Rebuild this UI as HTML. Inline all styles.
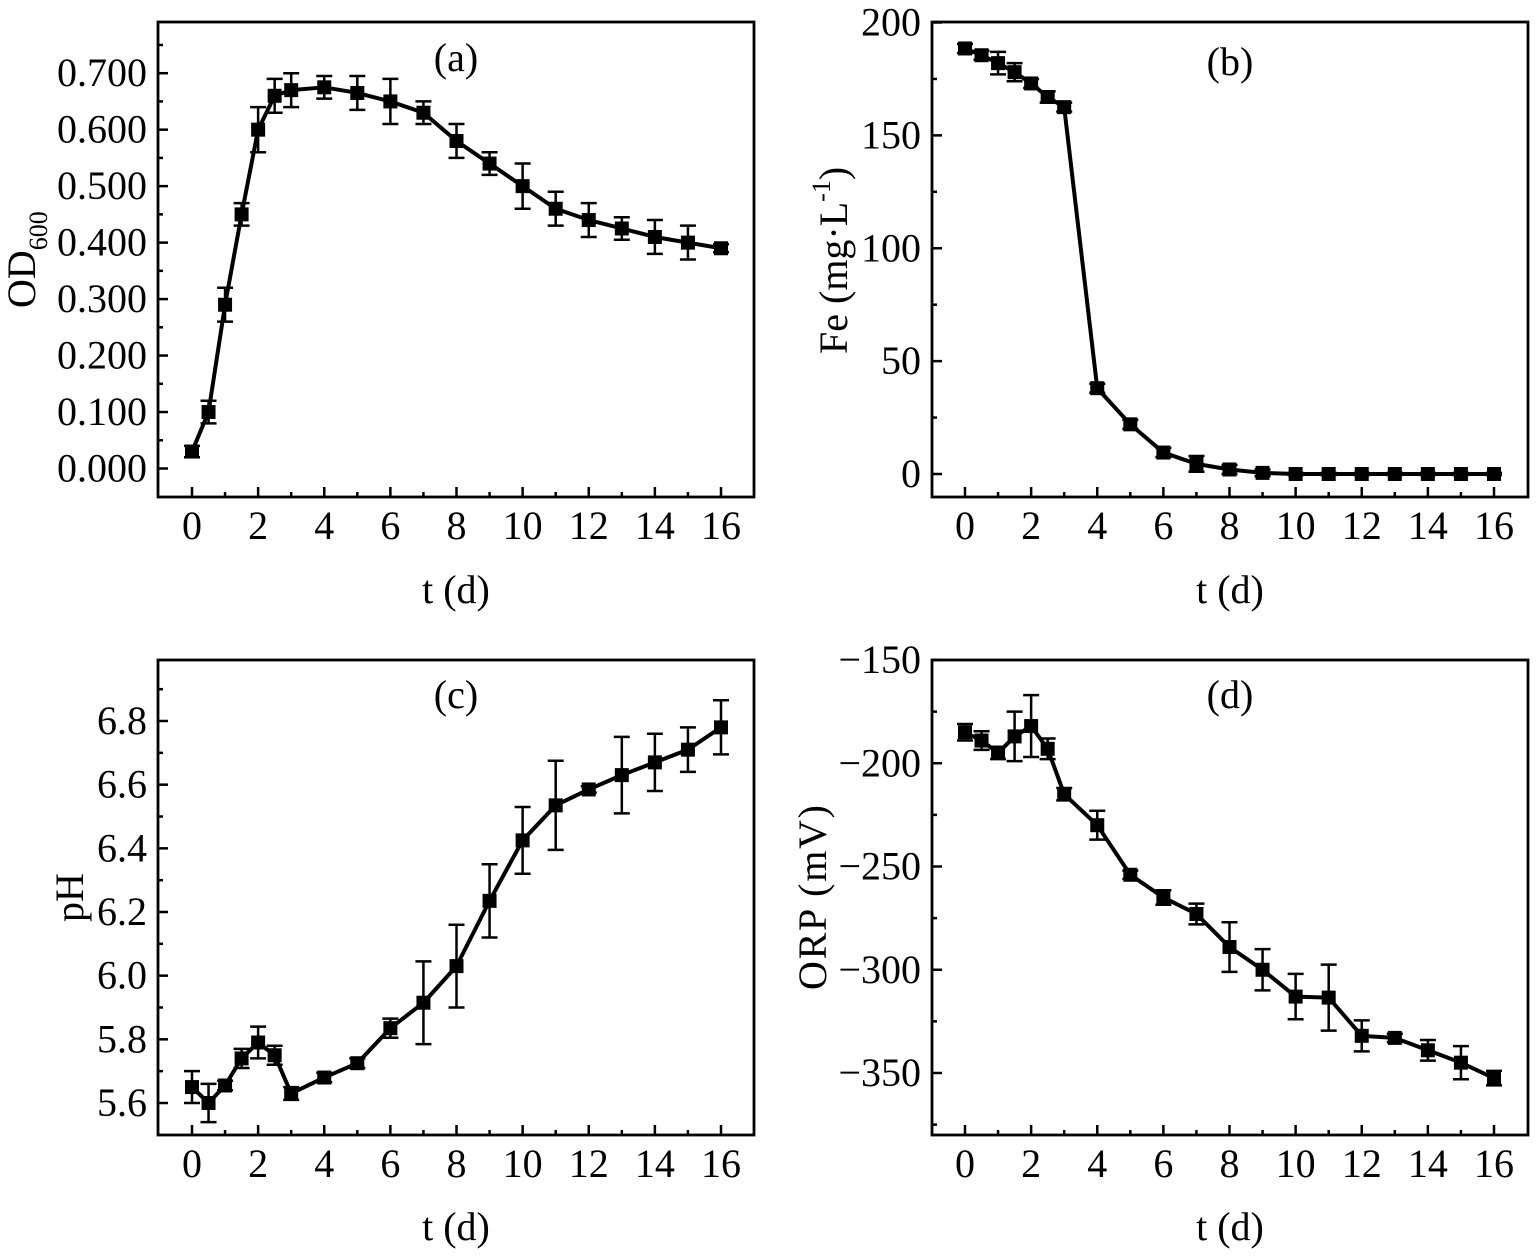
<!DOCTYPE html>
<html>
<head>
<meta charset="utf-8">
<style>
html,body{margin:0;padding:0;background:#fff;}
svg{display:block;}
text{font-family:"Liberation Serif",serif;fill:#000;font-size:40px;}
</style>
</head>
<body>
<svg id="figure" width="1536" height="1256" viewBox="0 0 1536 1256" xmlns="http://www.w3.org/2000/svg">
<rect width="1536" height="1256" fill="#fff"/>
<text x="456" y="71" text-anchor="middle">(a)</text>
<text x="1230" y="75" text-anchor="middle">(b)</text>
<text x="456" y="708" text-anchor="middle">(c)</text>
<text x="1230" y="708" text-anchor="middle">(d)</text>
<text x="456" y="603" text-anchor="middle">t (d)</text>
<text x="1230" y="603" text-anchor="middle">t (d)</text>
<text x="456" y="1240" text-anchor="middle">t (d)</text>
<text x="1230" y="1240" text-anchor="middle">t (d)</text>
<text transform="translate(35,308) rotate(-90)">OD<tspan font-size="26" dy="12">600</tspan></text>
<text transform="translate(847,354) rotate(-90)">Fe (mg·L<tspan font-size="26" dy="-17">-1</tspan><tspan dy="17">)</tspan></text>
<text transform="translate(83,922) rotate(-90)">pH</text>
<text transform="translate(826,990) rotate(-90)" textLength="185">ORP (mV)</text>
</svg>
<script>
const times = [0,0.5,1,1.5,2,2.5,3,4,5,6,7,8,9,10,11,12,13,14,15,16];
const xTicks = [0,2,4,6,8,10,12,14,16];
const xMinorTicks = [1,3,5,7,9,11,13,15];

const odValues = [0.03,0.1,0.29,0.45,0.6,0.66,0.67,0.675,0.665,0.65,0.63,0.58,0.54,0.5,0.46,0.44,0.425,0.41,0.4,0.39];
const odErrors = [0.01,0.02,0.03,0.02,0.04,0.03,0.03,0.02,0.03,0.04,0.02,0.03,0.02,0.04,0.03,0.03,0.02,0.03,0.03,0.007];
const odTicks = [0,0.1,0.2,0.3,0.4,0.5,0.6,0.7];
const odTickLabels = ["0.000","0.100","0.200","0.300","0.400","0.500","0.600","0.700"];
const odMinorTicks = [0.05,0.15,0.25,0.35,0.45,0.55,0.65,0.75];

const feValues = [188.5,185.5,182,178,173,167,162.5,38,22,9.5,4.5,2,0.5,0,0,0,0,0,0,0];
const feErrors = [2,2,5,4,2,2.5,2,2,2,2,3.5,2,1.5,0.5,0.5,0.5,0.5,0.5,0.5,0.5];
const feTicks = [0,50,100,150,200];
const feTickLabels = ["0","50","100","150","200"];
const feMinorTicks = [25,75,125,175];

const phValues = [5.65,5.6,5.655,5.74,5.79,5.75,5.63,5.68,5.725,5.835,5.915,6.03,6.235,6.425,6.535,6.585,6.63,6.67,6.71,6.78];
const phErrors = [0.05,0.06,0.015,0.03,0.05,0.03,0.02,0.015,0.015,0.03,0.13,0.13,0.115,0.105,0.14,0.01,0.12,0.09,0.07,0.085];
const phTicks = [5.6,5.8,6.0,6.2,6.4,6.6,6.8];
const phTickLabels = ["5.6","5.8","6.0","6.2","6.4","6.6","6.8"];
const phMinorTicks = [5.7,5.9,6.1,6.3,6.5,6.7,6.9];

const orpValues = [-185,-189,-195,-187,-182,-193,-215,-230,-254,-265,-273,-289,-300,-313,-313.5,-332,-333,-339,-345,-352.5];
const orpErrors = [4,4.5,3,12,15,5,3,7,2,3.5,5,12,10,11,16,7.5,2,5,8,3.5];
const orpTicks = [-150,-200,-250,-300,-350];
const orpTickLabels = ["\u2212150","\u2212200","\u2212250","\u2212300","\u2212350"];
const orpMinorTicks = [-175,-225,-275,-325,-375];

const svg = document.getElementById('figure');
const NS = 'http://www.w3.org/2000/svg';

function make(tag, attrs) {
  const el = document.createElementNS(NS, tag);
  for (const k in attrs) el.setAttribute(k, attrs[k]);
  svg.appendChild(el);
  return el;
}

function drawPanel(id, box, xScale, yScale, values, errors, yTicks, yLabels, yMinor) {
  const frame = make('rect', {x: box.l, y: box.t, width: box.r - box.l, height: box.b - box.t, fill: 'none', stroke: '#000', 'stroke-width': 2.8});
  
  

  xTicks.forEach(function (v) {
    const x = xScale(v);
    const tick = make('line', {x1: x, x2: x, y1: box.b, y2: box.b - 10, stroke: '#000', 'stroke-width': 2.5});
    
    
    const label = make('text', {x: x, y: box.b + 42, 'text-anchor': 'middle'});
    label.textContent = String(v);
    
    
  });
  xMinorTicks.forEach(function (v) {
    const x = xScale(v);
    const tick = make('line', {x1: x, x2: x, y1: box.b, y2: box.b - 5, stroke: '#000', 'stroke-width': 2.5});
    
    
  });
  yTicks.forEach(function (v, i) {
    const y = yScale(v);
    const tick = make('line', {x1: box.l, x2: box.l + 10, y1: y, y2: y, stroke: '#000', 'stroke-width': 2.5});
    
    
    const label = make('text', {x: box.l - 11, y: y + 13, 'text-anchor': 'end'});
    label.textContent = yLabels[i];
    
    
  });
  yMinor.forEach(function (v) {
    const y = yScale(v);
    const tick = make('line', {x1: box.l, x2: box.l + 5, y1: y, y2: y, stroke: '#000', 'stroke-width': 2.5});
    
    
  });

  times.forEach(function (t, i) {
    const x = xScale(t);
    const yHi = yScale(values[i] + errors[i]);
    const yLo = yScale(values[i] - errors[i]);
    const err = make('path', {
      d: 'M' + (x - 8) + ' ' + yHi + 'H' + (x + 8) + 'M' + (x - 8) + ' ' + yLo + 'H' + (x + 8) + 'M' + x + ' ' + yHi + 'V' + yLo,
      fill: 'none', stroke: '#000', 'stroke-width': 2.5
    });
    
    
  });

  const pts = times.map(function (t, i) { return xScale(t) + ',' + yScale(values[i]); }).join(' ');
  const line = make('polyline', {points: pts, fill: 'none', stroke: '#000', 'stroke-width': 4, 'stroke-linejoin': 'round'});
  
  

  times.forEach(function (t, i) {
    const m = make('rect', {x: xScale(t) - 7, y: yScale(values[i]) - 7, width: 14, height: 14, fill: '#000'});
    
    
  });
}

function linear(d0, r0, d1, r1) {
  return function (v) { return r0 + (v - d0) * (r1 - r0) / (d1 - d0); };
}

const xLeft = linear(0, 192, 16, 721);
const xRight = linear(0, 965, 16, 1494);

drawPanel('a', {l: 158, r: 754, t: 22, b: 497}, xLeft, linear(0, 468.5, 0.7, 73.2), odValues, odErrors, odTicks, odTickLabels, odMinorTicks);
drawPanel('b', {l: 932, r: 1528, t: 22, b: 497}, xRight, linear(0, 474, 200, 22.5), feValues, feErrors, feTicks, feTickLabels, feMinorTicks);
drawPanel('c', {l: 158, r: 754, t: 660, b: 1135}, xLeft, linear(5.6, 1103, 6.8, 721), phValues, phErrors, phTicks, phTickLabels, phMinorTicks);
drawPanel('d', {l: 932, r: 1528, t: 660, b: 1135}, xRight, linear(-150, 660, -350, 1073), orpValues, orpErrors, orpTicks, orpTickLabels, orpMinorTicks);
</script>
</body>
</html>
